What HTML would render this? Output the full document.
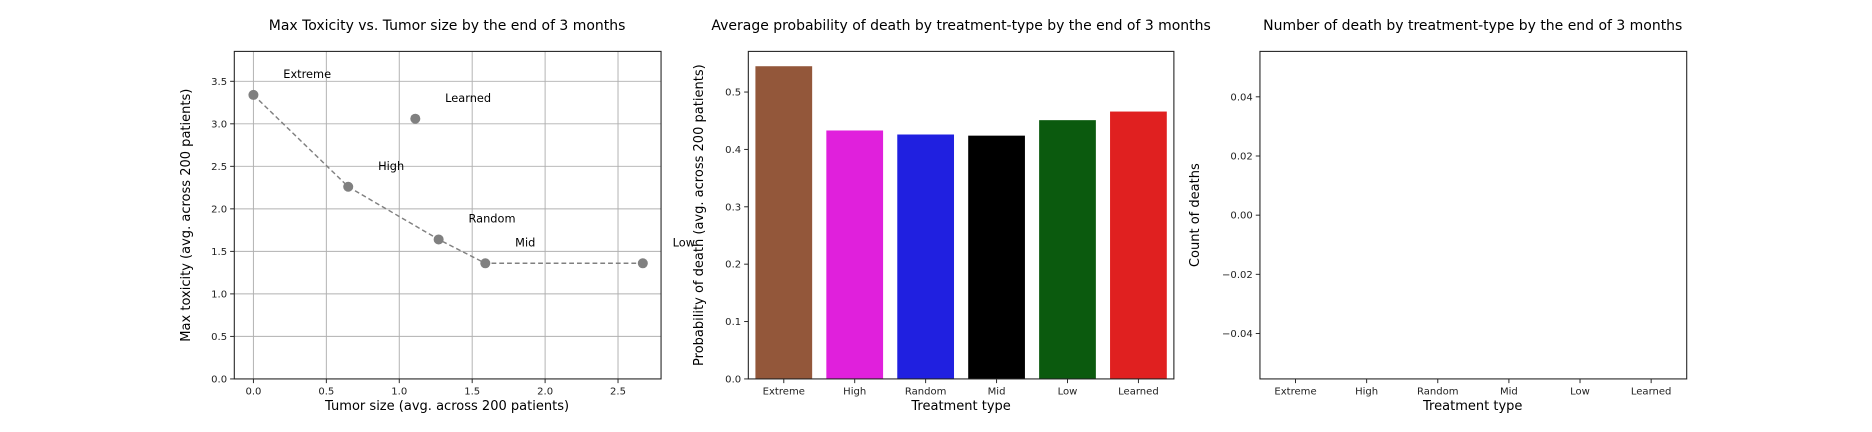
<!DOCTYPE html>
<html><head><meta charset="utf-8"><style>
html,body{margin:0;padding:0;background:#fff;overflow:hidden;}
svg{font-family:"DejaVu Sans","Liberation Sans",sans-serif;display:block;}
</style></head><body>
<svg id="s" width="1872" height="432" viewBox="0 0 1566 361.4" preserveAspectRatio="none" xmlns="http://www.w3.org/2000/svg"></svg>
<script>
const scatterLabels=["Extreme","High","Random","Mid","Low","Learned"];
const tumorSize=[0,0.65,1.27,1.59,2.67,1.11];
const maxTox=[3.34,2.26,1.64,1.36,1.36,3.06];
const lineOrder=[0,1,2,3,4];
const xTicks1=[0,0.5,1,1.5,2,2.5];
const yTicks1=[0,0.5,1,1.5,2,2.5,3,3.5];
const barCats=["Extreme","High","Random","Mid","Low","Learned"];
const barProb=[0.545,0.433,0.426,0.424,0.451,0.466];
const barColors=["#93573a","#e020dc","#2020e0","#000000","#0b5a0e","#e02020"];
const yTicks2=[0,0.1,0.2,0.3,0.4,0.5];
const deathCounts=[];
const yTicks3=[-0.04,-0.02,0,0.02,0.04];
const NS="http://www.w3.org/2000/svg";
const svg=document.getElementById('s');
function el(t,a,txt,p){const e=document.createElementNS(NS,t);for(const k in a)e.setAttribute(k,a[k]);if(txt!==undefined)e.textContent=txt;(p||svg).appendChild(e);return e;}
function axisBox(L,T,R,B){const r=el('rect',{x:L,y:T,width:R-L,height:B-T,fill:'none',stroke:'#222','stroke-width':0.9});

}
function ytick(x,y,lbl){el('line',{x1:x-3.5,y1:y,x2:x,y2:y,stroke:'#222','stroke-width':0.8});const t=el('text',{x:x-6,y:y+3,'font-size':8.4,'text-anchor':'end',fill:'#222'},lbl);

}
function xtick(x,y,lbl){el('line',{x1:x,y1:y,x2:x,y2:y+3.5,stroke:'#222','stroke-width':0.8});const t=el('text',{x:x,y:y+13,'font-size':8.4,'text-anchor':'middle',fill:'#222'},lbl);

}
function title(x,txt){const t=el('text',{x:x,y:25,'font-size':11.7,'text-anchor':'middle',fill:'#000'},txt);

}
function xlabel(x,txt){const t=el('text',{x:x,y:343,'font-size':10.9,'text-anchor':'middle',fill:'#000'},txt);

}
function ylabel(x,txt){const t=el('text',{x:0,y:0,'font-size':10.9,'text-anchor':'middle',fill:'#000',transform:`translate(${x},180) rotate(-90)`},txt);

}
// Chart 1
{const L=196,R=553,T=43,B=317;
const sx=v=>212+v*122, sy=v=>317-v*71.14;
xTicks1.forEach(v=>{el('line',{x1:sx(v),y1:T,x2:sx(v),y2:B,stroke:'#b0b0b0','stroke-width':0.8});});
yTicks1.forEach(v=>{el('line',{x1:L,y1:sy(v),x2:R,y2:sy(v),stroke:'#b0b0b0','stroke-width':0.8});});
xTicks1.forEach(v=>xtick(sx(v),B,v.toFixed(1)));
yTicks1.forEach(v=>ytick(L,sy(v),v.toFixed(1)));
const pts=lineOrder.map(i=>sx(tumorSize[i])+','+sy(maxTox[i])).join(' ');
const pl=el('polyline',{points:pts,fill:'none',stroke:'#808080','stroke-width':1.2,'stroke-dasharray':'4,2.5'});


scatterLabels.forEach((n,i)=>{const c=el('circle',{cx:sx(tumorSize[i]),cy:sy(maxTox[i]),r:4.2,fill:'#808080'});


const t=el('text',{x:sx(tumorSize[i])+25,y:sy(maxTox[i])-14,'font-size':9.5,fill:'#000'},n);

});
axisBox(L,T,R,B);
title(374,'Max Toxicity vs. Tumor size by the end of 3 months');
xlabel(374,'Tumor size (avg. across 200 patients)');
ylabel(159,'Max toxicity (avg. across 200 patients)');}
// Chart 2
{const L=626,R=982,T=43,B=317;
const slot=(R-L)/barCats.length, sy=v=>317-v*480;
barCats.forEach((n,i)=>{const x=L+slot*i+slot*0.1;const r=el('rect',{x:x,y:sy(barProb[i]),width:slot*0.8,height:B-sy(barProb[i]),fill:barColors[i]});


xtick(L+slot*(i+0.5),B,n);});
yTicks2.forEach(v=>ytick(L,sy(v),v.toFixed(1)));
axisBox(L,T,R,B);
title(804,'Average probability of death by treatment-type by the end of 3 months');
xlabel(804,'Treatment type');
ylabel(588,'Probability of death (avg. across 200 patients)');}
// Chart 3
{const L=1054,R=1411,T=43,B=317;
const slot=(R-L)/barCats.length, sy=v=>180-v*2475;
barCats.forEach((n,i)=>{xtick(L+slot*(i+0.5),B,n);if(deathCounts[i]!==undefined){const r=el('rect',{x:L+slot*i+slot*0.1,y:Math.min(sy(0),sy(deathCounts[i])),width:slot*0.8,height:Math.abs(sy(deathCounts[i])-sy(0)),fill:barColors[i]});

}});
yTicks3.forEach(v=>ytick(L,sy(v),v.toFixed(2).replace('-','\u2212')));
axisBox(L,T,R,B);
title(1232,'Number of death by treatment-type by the end of 3 months');
xlabel(1232,'Treatment type');
ylabel(1003,'Count of deaths');}
</script>
</body></html>
